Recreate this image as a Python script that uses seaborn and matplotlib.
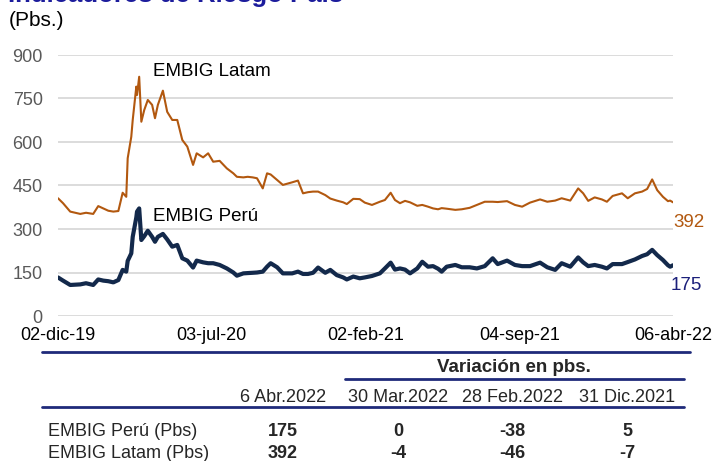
import matplotlib
matplotlib.use("Agg")
import matplotlib.pyplot as plt
from matplotlib.lines import Line2D
import seaborn as sns
import pandas as pd

# ---- data ----
fechas = [
    "2019-12-02", "2019-12-09", "2019-12-19", "2020-01-02", "2020-01-10", "2020-01-20",
    "2020-01-27", "2020-02-03", "2020-02-10", "2020-02-17", "2020-02-24", "2020-03-01",
    "2020-03-06", "2020-03-08", "2020-03-13", "2020-03-15", "2020-03-20", "2020-03-21",
    "2020-03-24", "2020-03-27", "2020-03-31", "2020-04-05", "2020-04-11", "2020-04-15",
    "2020-04-19", "2020-04-26", "2020-05-02", "2020-05-09", "2020-05-16", "2020-05-23",
    "2020-05-30", "2020-06-07", "2020-06-12", "2020-06-21", "2020-06-28", "2020-07-05",
    "2020-07-14", "2020-07-24", "2020-08-02", "2020-08-07", "2020-08-16", "2020-08-22",
    "2020-08-29", "2020-09-04", "2020-09-12", "2020-09-18", "2020-09-23", "2020-10-02",
    "2020-10-10", "2020-10-23", "2020-10-31", "2020-11-07", "2020-11-14", "2020-11-21",
    "2020-11-28", "2020-12-08", "2020-12-15", "2020-12-24", "2021-01-02", "2021-01-07",
    "2021-01-16", "2021-01-25", "2021-02-01", "2021-02-11", "2021-02-22", "2021-03-01",
    "2021-03-09", "2021-03-15", "2021-03-22", "2021-03-29", "2021-04-05", "2021-04-15",
    "2021-04-22", "2021-04-30", "2021-05-07", "2021-05-14", "2021-05-19", "2021-05-26",
    "2021-06-07", "2021-06-16", "2021-06-27", "2021-07-07", "2021-07-18", "2021-07-29",
    "2021-08-05", "2021-08-18", "2021-08-29", "2021-09-08", "2021-09-19", "2021-10-03",
    "2021-10-13", "2021-10-24", "2021-11-02", "2021-11-14", "2021-11-25", "2021-12-02",
    "2021-12-09", "2021-12-18", "2021-12-28", "2022-01-04", "2022-01-12", "2022-01-25",
    "2022-02-02", "2022-02-12", "2022-02-22", "2022-03-01", "2022-03-08", "2022-03-15",
    "2022-03-23", "2022-03-30", "2022-04-02", "2022-04-06",
]
embig_latam = [
    406, 389, 360, 352, 356, 352, 379, 371, 363, 360, 362, 425,
    411, 544, 618, 676, 791, 762, 825, 670, 710, 745, 728, 682,
    728, 777, 704, 676, 676, 607, 584, 521, 561, 547, 561, 532,
    535, 509, 492, 480, 478, 480, 478, 475, 440, 492, 488, 469,
    452, 461, 467, 423, 427, 429, 429, 417, 405, 398, 392, 386,
    404, 403, 391, 383, 394, 400, 425, 400, 389, 397, 392, 380,
    383, 377, 371, 368, 372, 370, 366, 368, 373, 383, 394, 394,
    393, 396, 383, 377, 391, 402, 394, 398, 406, 398, 440, 423,
    397, 409, 402, 394, 414, 423, 406, 423, 429, 438, 471, 434,
    411, 396, 398, 392,
]
embig_peru = [
    133, 122, 107, 109, 113, 107, 126, 122, 120, 116, 124, 159,
    153, 190, 216, 273, 340, 360, 371, 262, 275, 294, 273, 256,
    273, 283, 264, 239, 245, 199, 191, 167, 191, 185, 182, 182,
    176, 164, 150, 139, 147, 148, 149, 150, 153, 170, 182, 168,
    147, 147, 153, 145, 145, 149, 167, 149, 159, 141, 133, 126,
    136, 130, 133, 138, 147, 164, 184, 160, 164, 160, 147, 164,
    187, 170, 172, 163, 153, 170, 176, 168, 168, 164, 172, 199,
    179, 191, 176, 172, 172, 184, 168, 159, 182, 170, 202, 185,
    172, 176, 170, 164, 179, 179, 186, 195, 207, 213, 228, 210,
    193, 175, 170, 175,
]
xtick_fechas = ["2019-12-02", "2020-07-03", "2021-02-02", "2021-09-04", "2022-04-06"]
xtick_labels = ["02-dic-19", "03-jul-20", "02-feb-21", "04-sep-21", "06-abr-22"]
yticks = [0, 150, 300, 450, 600, 750, 900]

tabla_cols = ["6 Abr.2022", "30 Mar.2022", "28 Feb.2022", "31 Dic.2021"]
tabla_filas = ["EMBIG Perú (Pbs)", "EMBIG Latam (Pbs)"]
tabla_peru = ["175", "0", "-38", "5"]
tabla_latam = ["392", "-4", "-46", "-7"]

# ---- styling ----
sns.set_theme(style="white")
plt.rcParams["font.family"] = ["Liberation Sans", "DejaVu Sans"]

W, H = 715, 461
COL_LATAM = "#B2580F"
COL_PERU = "#13294B"
NAVY = "#1F2A7A"

df = pd.DataFrame({
    "fecha": pd.to_datetime(fechas),
    "latam": embig_latam,
    "peru": embig_peru,
})

fig = plt.figure(figsize=(W / 100, H / 100), dpi=100)


def fx(x):
    return x / W


def fy(y):
    return 1 - y / H


ax = fig.add_axes([fx(58), fy(316), (673 - 58) / W, (316 - 55) / H])

sns.lineplot(data=df, x="fecha", y="latam", color=COL_LATAM, lw=1.5, ax=ax)
sns.lineplot(data=df, x="fecha", y="peru", color=COL_PERU, lw=3.0, ax=ax)

ax.set_ylim(0, 900)
ax.set_xlim(pd.Timestamp(xtick_fechas[0]), pd.Timestamp(xtick_fechas[-1]))
ax.set_yticks(yticks)
ax.set_yticklabels([str(v) for v in yticks], color="#595959", fontsize=13)
ax.set_xticks(pd.to_datetime(xtick_fechas))
ax.set_xticklabels(xtick_labels, color="#000000", fontsize=13)
ax.tick_params(axis="both", length=0)
ax.tick_params(axis="y", pad=11)
ax.tick_params(axis="x", pad=8)
ax.set_xlabel("")
ax.set_ylabel("")
ax.yaxis.grid(True, color="#D9D9D9", lw=1.3)
ax.xaxis.grid(False)
for s in ax.spines.values():
    s.set_visible(False)
ax.set_axisbelow(True)

# series labels
fig.text(fx(153), fy(72), "EMBIG Latam", fontsize=13.5, color="#000000", va="center", ha="left")
fig.text(fx(153), fy(216), "EMBIG Perú", fontsize=13.5, color="#000000", va="center", ha="left")
fig.text(fx(673), fy(222), f"{embig_latam[-1]}", fontsize=13.5, color=COL_LATAM, va="center", ha="left")
fig.text(fx(671), fy(285), f"{embig_peru[-1]}", fontsize=13.5, color="#1B1F7A", va="center", ha="left")

# title (cut at the top edge, as in the reference) and unit
fig.text(fx(8), fy(2), "Indicadores de Riesgo País", fontsize=18.5, fontweight="bold",
         color="#1C1C9C", va="baseline", ha="left")
fig.text(fx(9), fy(21), "(Pbs.)", fontsize=15, color="#000000", va="center", ha="left")

# ---- table below ----
def hline(x0, x1, y, lw=2.0):
    fig.add_artist(Line2D([fx(x0), fx(x1)], [fy(y), fy(y)], color=NAVY, lw=lw,
                          transform=fig.transFigure))


hline(42, 690, 352)
hline(345, 684, 379)
hline(42, 684, 407)

fig.text(fx(514), fy(367), "Variación en pbs.", fontsize=13.5, fontweight="bold",
         color="#262626", ha="center", va="center")

col_x = [283, 398, 512, 627]
for cx, lab in zip(col_x, tabla_cols):
    fig.text(fx(cx), fy(397), lab, fontsize=13, color="#262626", ha="center", va="center")

row_y = [431, 453]
for ry, lab, vals in zip(row_y, tabla_filas, [tabla_peru, tabla_latam]):
    fig.text(fx(48), fy(ry), lab, fontsize=13, color="#262626", ha="left", va="center")
    for cx, v in zip(col_x, vals):
        fig.text(fx(cx), fy(ry), v, fontsize=13, fontweight="bold", color="#262626",
                 ha="center", va="center")

fig.savefig("out.png", dpi=100)
